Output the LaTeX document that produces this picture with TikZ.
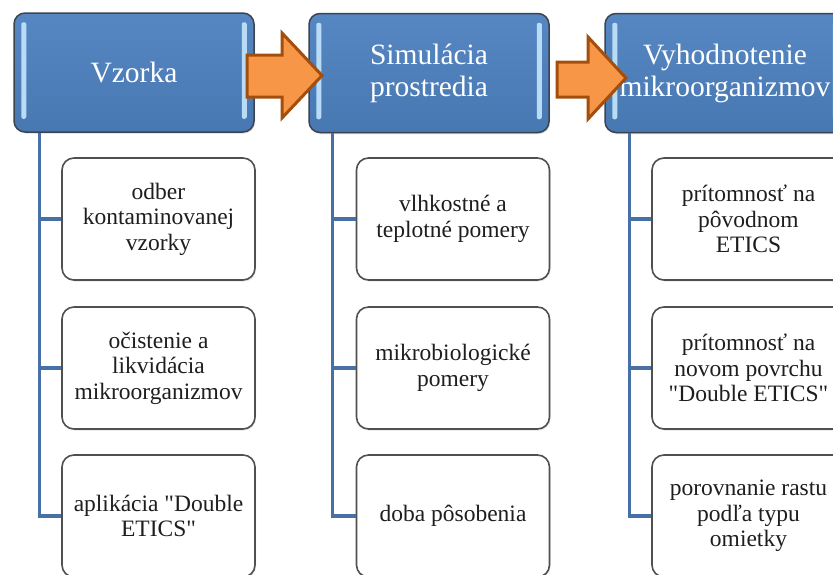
\documentclass[tikz,border=0pt]{standalone}
\usepackage{fontspec}
\setmainfont{Liberation Serif}[Ligatures=TeXOff]
\usetikzlibrary{calc,shadows}
\definecolor{hdrblue}{HTML}{4F81BD}
\definecolor{hdrtop}{HTML}{5687C2}
\definecolor{hdrbot}{HTML}{4878B2}
\definecolor{hdrborder}{HTML}{3C4450}
\definecolor{hilite}{HTML}{B8DCF6}
\definecolor{subborder}{HTML}{505050}
\definecolor{treeblue}{HTML}{4670A6}
\definecolor{arroworange}{HTML}{F79646}
\definecolor{arrowborder}{HTML}{A34E0C}
\definecolor{subtext}{HTML}{1E1E1E}
\begin{document}
\begin{tikzpicture}[x=1pt,y=-1pt,
  hdr/.style={draw=hdrborder, line width=1.5pt, top color=hdrtop, bottom color=hdrbot,
    rounded corners=11pt, minimum width=240pt, minimum height=119pt, text=white,
    font=\fontsize{29.5}{32}\selectfont, align=center, inner sep=0pt,
    drop shadow={shadow xshift=1pt, shadow yshift=-1.5pt, opacity=.3}},
  sub/.style={draw=subborder, line width=1.6pt, fill=white, rounded corners=12pt,
    minimum width=193pt, minimum height=122pt, font=\fontsize{23.5}{25.5}\selectfont,
    align=center, text=subtext, inner sep=0pt,
    drop shadow={shadow xshift=1pt, shadow yshift=-1.5pt, opacity=.2}},
  bar/.style={fill=hilite, draw=none, rounded corners=2pt},
  tree/.style={draw=treeblue, line width=3.2pt},
  bigarrow/.style={fill=arroworange, draw=arrowborder, line width=3pt, line join=miter}]
\useasboundingbox (0,0) rectangle (833,574);
\clip (0,0) rectangle (833,574);

% header boxes
\node[hdr] (h1) at (134,72.5) {Vzorka};
\node[hdr] (h2) at (429,73) {Simulácia\\prostredia};
\node[hdr] (h3) at (725,73) {Vyhodnotenie\\mikroorganizmov};

% highlight bars
\foreach \h in {h1,h2,h3}{
  \fill[bar] ($(\h.north west)+(8,10)$) rectangle ($(\h.south west)+(13,-14)$);
  \fill[bar] ($(\h.north east)+(-13,10)$) rectangle ($(\h.south east)+(-8,-14)$);
}

% sub boxes
\node[sub] (s11) at (158.5,219) {odber\\kontaminovanej\\vzorky};
\node[sub] (s12) at (158.5,368) {očistenie a\\likvidácia\\mikroorganizmov};
\node[sub] (s13) at (158.5,516) {aplikácia "Double\\ETICS"};

\node[sub] (s21) at (453,219) {vlhkostné a\\teplotné pomery};
\node[sub] (s22) at (453,368) {mikrobiologické\\pomery};
\node[sub] (s23) at (453,516) {doba pôsobenia};

\node[sub] (s31) at (748.5,219) {prítomnosť na\\pôvodnom\\ETICS};
\node[sub] (s32) at (748.5,368) {prítomnosť na\\novom povrchu\\"Double ETICS"};
\node[sub] (s33) at (748.5,516) {porovnanie rastu\\podľa typu\\omietky};

% tree connectors
\coordinate (t1) at ($(h1.south west)+(26,0)$);
\coordinate (t2) at ($(h2.south west)+(24,0)$);
\coordinate (t3) at ($(h3.south west)+(25,0)$);
\foreach \t/\c in {t1/1,t2/2,t3/3}{
  \draw[tree] (\t) |- (s\c3.west);
  \draw[tree] (\t |- s\c1.west) -- (s\c1.west);
  \draw[tree] (\t |- s\c2.west) -- (s\c2.west);
}

% block arrows between header boxes
\draw[bigarrow] (247,55) -- (282,55) -- (282,33) -- (322,75.5) -- (282,118) -- (282,97) -- (247,97) -- cycle;
\draw[bigarrow] (557,62) -- (588,62) -- (588,37) -- (626,78) -- (588,119) -- (588,97) -- (557,97) -- cycle;
\end{tikzpicture}
\end{document}
